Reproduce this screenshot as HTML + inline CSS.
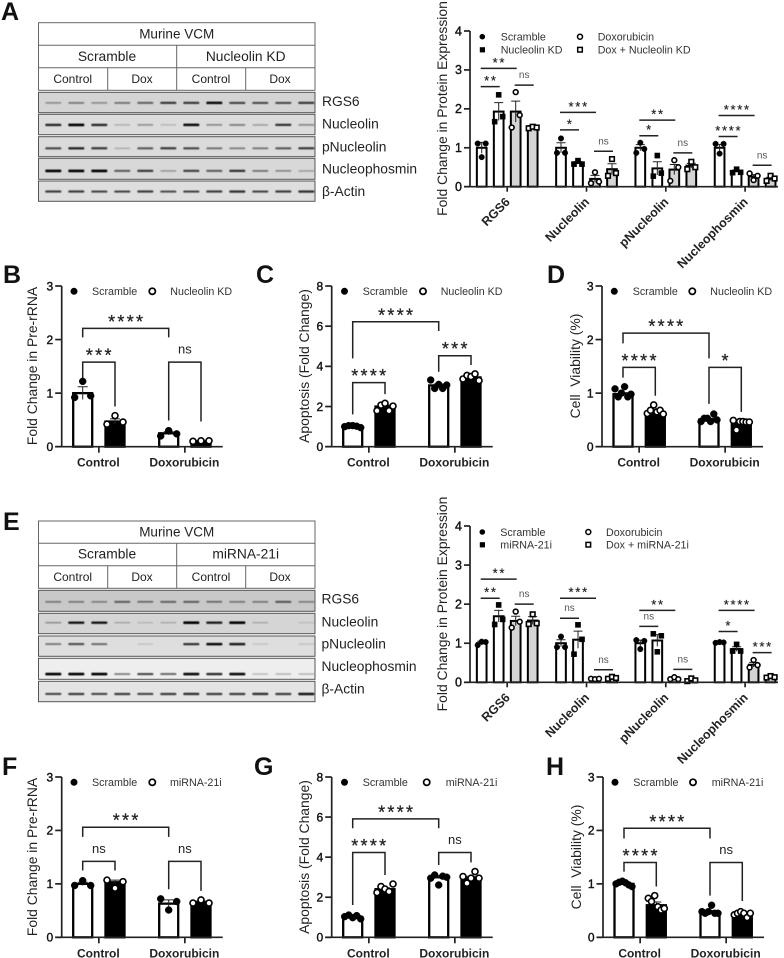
<!DOCTYPE html>
<html lang="en">
<head>
<meta charset="utf-8">
<title>Nucleolin and miRNA-21 figure</title>
<style>
html,body{margin:0;padding:0;background:#fff;width:784px;height:958px;overflow:hidden}
svg{display:block;font-family:"Liberation Sans",Arial,sans-serif;filter:blur(0.3px)}
.letter{font-size:25px;font-weight:700;fill:#111}
.tbl{fill:#fff;stroke:#666;stroke-width:1}
.tl{fill:#222;text-anchor:middle}
.row{fill:#222;font-size:13.8px}
.ttl{fill:#222;font-size:13.9px;text-anchor:middle}
.leg{fill:#333;font-size:10.7px}
</style>
</head>
<body>
<svg id="figure" width="784" height="958" viewBox="0 0 784 958" xmlns="http://www.w3.org/2000/svg">
<defs><filter id="soft" x="-20%" y="-150%" width="140%" height="400%"><feGaussianBlur stdDeviation="0.6"/></filter></defs>

<text class="letter" x="1" y="20">A</text>
<text class="letter" x="3" y="283">B</text>
<text class="letter" x="256" y="283">C</text>
<text class="letter" x="547" y="283">D</text>
<text class="letter" x="3" y="530">E</text>
<text class="letter" x="2" y="775">F</text>
<text class="letter" x="254" y="775">G</text>
<text class="letter" x="546" y="775">H</text>

<g>
<rect class="tbl" x="38.5" y="22.7" width="276.5" height="67.6"/>
<path d="M38.5 45.3H315M38.5 67.7H315M176.7 45.3V90.3M107.7 67.7V90.3M245.7 67.7V90.3" stroke="#666" fill="none"/>
<text class="tl" font-size="13.5" x="176.7" y="38.3">Murine VCM</text>
<text class="tl" font-size="13.8" x="107" y="61">Scramble</text>
<text class="tl" font-size="13.8" x="245.7" y="61">Nucleolin KD</text>
<text class="tl" font-size="12" x="72.7" y="83">Control</text>
<text class="tl" font-size="12" x="142" y="83">Dox</text>
<text class="tl" font-size="12" x="211" y="83">Control</text>
<text class="tl" font-size="12" x="280" y="83">Dox</text>
</g>
<g id="blots-a"></g>
<g>
<text class="row" x="322" y="106">RGS6</text>
<text class="row" x="322" y="128.7">Nucleolin</text>
<text class="row" x="322" y="151.3">pNucleolin</text>
<text class="row" x="322" y="173.7">Nucleophosmin</text>
<text class="row" x="322" y="196">β-Actin</text>
</g>

<g>
<rect class="tbl" x="38.5" y="521" width="276.5" height="67.3"/>
<path d="M38.5 543.3H315M38.5 565.7H315M176.7 543.3V588.3M107.7 565.7V588.3M245.7 565.7V588.3" stroke="#666" fill="none"/>
<text class="tl" font-size="13.5" x="176.7" y="536.3">Murine VCM</text>
<text class="tl" font-size="13.8" x="107" y="558.7">Scramble</text>
<text class="tl" font-size="13.8" x="245.7" y="558.7">miRNA-21i</text>
<text class="tl" font-size="12" x="72.7" y="581">Control</text>
<text class="tl" font-size="12" x="142" y="581">Dox</text>
<text class="tl" font-size="12" x="211" y="581">Control</text>
<text class="tl" font-size="12" x="280" y="581">Dox</text>
</g>
<g id="blots-e"></g>
<g>
<text class="row" x="321.5" y="603.7">RGS6</text>
<text class="row" x="321.5" y="626.3">Nucleolin</text>
<text class="row" x="321.5" y="648.7">pNucleolin</text>
<text class="row" x="321.5" y="671">Nucleophosmin</text>
<text class="row" x="321.5" y="693.7">β-Actin</text>
</g>

<text class="ttl" transform="translate(447 108.5) rotate(-90)">Fold Change in Protein Expression</text>
<text class="ttl" transform="translate(447 604) rotate(-90)">Fold Change in Protein Expression</text>
<text class="ttl" transform="translate(37 366) rotate(-90)">Fold Change in Pre-rRNA</text>
<text class="ttl" transform="translate(309 366) rotate(-90)">Apoptosis (Fold Change)</text>
<text class="ttl" transform="translate(580 366) rotate(-90)" xml:space="preserve">Cell  Viability (%)</text>
<text class="ttl" transform="translate(37 857) rotate(-90)">Fold Change in Pre-rRNA</text>
<text class="ttl" transform="translate(309 857) rotate(-90)">Apoptosis (Fold Change)</text>
<text class="ttl" transform="translate(581 857) rotate(-90)" xml:space="preserve">Cell  Viability (%)</text>

<g>
<circle cx="482.3" cy="36.7" r="2.8" fill="#000"/><text class="leg" x="500.7" y="40.5">Scramble</text>
<rect x="479.8" y="47.2" width="5.2" height="5.2" fill="#000"/><text class="leg" x="500.7" y="53.5">Nucleolin KD</text>
<circle cx="580" cy="36.7" r="2.5" fill="#fff" stroke="#000" stroke-width="1.5"/><text class="leg" x="597.7" y="40.5">Doxorubicin</text>
<rect x="577.7" y="47.4" width="4.6" height="4.6" fill="#fff" stroke="#000" stroke-width="1.5"/><text class="leg" x="597.7" y="53.5">Dox + Nucleolin KD</text>
</g>
<g>
<circle cx="482.3" cy="532" r="2.8" fill="#000"/><text class="leg" x="500.3" y="535.8">Scramble</text>
<rect x="479.8" y="542.2" width="5.2" height="5.2" fill="#000"/><text class="leg" x="500.3" y="548.5">miRNA-21i</text>
<circle cx="588.3" cy="532" r="2.5" fill="#fff" stroke="#000" stroke-width="1.5"/><text class="leg" x="606" y="535.8">Doxorubicin</text>
<rect x="586" y="542.4" width="4.6" height="4.6" fill="#fff" stroke="#000" stroke-width="1.5"/><text class="leg" x="606" y="548.5">Dox + miRNA-21i</text>
</g>
<g>
<circle cx="74" cy="291.3" r="3.5" fill="#000"/><text class="leg" x="92" y="295">Scramble</text>
<circle cx="152.3" cy="291.3" r="3.1" fill="#fff" stroke="#000" stroke-width="1.7"/><text class="leg" x="170.3" y="295">Nucleolin KD</text>
</g>
<g>
<circle cx="344.5" cy="291.3" r="3.5" fill="#000"/><text class="leg" x="362.7" y="295">Scramble</text>
<circle cx="423" cy="291.3" r="3.1" fill="#fff" stroke="#000" stroke-width="1.7"/><text class="leg" x="440.7" y="295">Nucleolin KD</text>
</g>
<g>
<circle cx="614.3" cy="291.3" r="3.5" fill="#000"/><text class="leg" x="632.7" y="295">Scramble</text>
<circle cx="692.3" cy="291.3" r="3.1" fill="#fff" stroke="#000" stroke-width="1.7"/><text class="leg" x="710.3" y="295">Nucleolin KD</text>
</g>
<g>
<circle cx="74" cy="782.3" r="3.5" fill="#000"/><text class="leg" x="92" y="786">Scramble</text>
<circle cx="152.3" cy="782.3" r="3.1" fill="#fff" stroke="#000" stroke-width="1.7"/><text class="leg" x="170" y="786">miRNA-21i</text>
</g>
<g>
<circle cx="344.5" cy="782.3" r="3.5" fill="#000"/><text class="leg" x="362.7" y="786">Scramble</text>
<circle cx="426.7" cy="782.3" r="3.1" fill="#fff" stroke="#000" stroke-width="1.7"/><text class="leg" x="445.7" y="786">miRNA-21i</text>
</g>
<g>
<circle cx="615" cy="782.3" r="3.5" fill="#000"/><text class="leg" x="633.3" y="786">Scramble</text>
<circle cx="693" cy="782.3" r="3.1" fill="#fff" stroke="#000" stroke-width="1.7"/><text class="leg" x="711.7" y="786">miRNA-21i</text>
</g>

<g id="chart-a"></g>
<g id="chart-e"></g>
<g id="chart-b"></g>
<g id="chart-c"></g>
<g id="chart-d"></g>
<g id="chart-f"></g>
<g id="chart-g"></g>
<g id="chart-h"></g>
</svg>

<script>
// ---------- shared labels ----------
const proteinCategories = ['RGS6', 'Nucleolin', 'pNucleolin', 'Nucleophosmin'];
const treatmentCategories = ['Control', 'Doxorubicin'];
const ticksProtein = [0, 1, 2, 3, 4];
const ticksThree = [0, 1, 2, 3];
const ticksEight = [0, 2, 4, 6, 8];

// ---------- panel A ----------
const aMeans = [[1.0, 1.93, 1.93, 1.55], [1.0, 0.61, 0.2, 0.45], [1.0, 0.47, 0.44, 0.54], [1.0, 0.4, 0.26, 0.2]];
const aErrors = [[0.14, 0.23, 0.27, 0.02], [0.13, 0.03, 0.09, 0.14], [0.08, 0.17, 0.13, 0.06], [0.08, 0.03, 0.05, 0.04]];
const aPoints = [
  [[1.11, 0.76, 1.11], [1.67, 2.36, 1.8], [1.52, 2.43, 1.84], [1.5, 1.54, 1.52]],
  [[0.87, 1.24, 0.87], [0.58, 0.67, 0.58], [0.09, 0.37, 0.13], [0.28, 0.71, 0.35]],
  [[0.87, 1.13, 0.97], [0.27, 0.8, 0.35], [0.15, 0.68, 0.5], [0.45, 0.64, 0.5]],
  [[1.1, 0.85, 1.1], [0.36, 0.45, 0.37], [0.34, 0.17, 0.28], [0.15, 0.28, 0.21]]
];
const aBrackets = [
  [0, 0, 2, 3.04, '**'], [0, 0, 1, 2.57, '**'], [0, 2, 3, 2.61, 'ns'],
  [1, 0, 2, 1.91, '***'], [1, 0, 1, 1.46, '*'], [1, 2, 3, 0.91, 'ns'],
  [2, 0, 2, 1.71, '**'], [2, 0, 1, 1.31, '*'], [2, 2, 3, 0.87, 'ns'],
  [3, 0, 2, 1.83, '****'], [3, 0, 1, 1.29, '****'], [3, 2, 3, 0.55, 'ns']
];

// ---------- panel E ----------
const eMeans = [[1.0, 1.69, 1.57, 1.58], [1.0, 1.09, 0.09, 0.12], [1.0, 1.07, 0.1, 0.06], [1.02, 0.85, 0.45, 0.14]];
const eErrors = [[0.05, 0.15, 0.12, 0.1], [0.09, 0.22, 0.01, 0.02], [0.08, 0.15, 0.02, 0.02], [0.01, 0.06, 0.06, 0.01]];
const ePoints = [
  [[0.95, 1.04, 1.03], [1.48, 1.98, 1.61], [1.4, 1.81, 1.55], [1.49, 1.74, 1.51]],
  [[0.9, 1.17, 0.9], [0.72, 1.47, 1.1], [0.09, 0.08, 0.09], [0.09, 0.14, 0.11]],
  [[1.08, 0.85, 1.06], [1.24, 0.78, 1.19], [0.08, 0.13, 0.08], [0.03, 0.1, 0.05]],
  [[1.01, 1.03, 1.02], [0.8, 0.97, 0.8], [0.38, 0.57, 0.44], [0.12, 0.16, 0.13]]
];
const eBrackets = [
  [0, 0, 2, 2.64, '**'], [0, 0, 1, 2.15, '**'], [0, 2, 3, 2.0, 'ns'],
  [1, 0, 2, 2.15, '***'], [1, 0, 1, 1.64, 'ns'], [1, 2, 3, 0.32, 'ns'],
  [2, 0, 2, 1.84, '**'], [2, 0, 1, 1.43, 'ns'], [2, 2, 3, 0.33, 'ns'],
  [3, 0, 2, 1.84, '****'], [3, 0, 1, 1.3, '*'], [3, 2, 3, 0.76, '***']
];

// ---------- panels B, C, D ----------
const bMeans = [1.0, 0.47, 0.25, 0.1];
const bErrors = [0.12, 0.05, 0.03, 0.01];
const bPoints = [[0.92, 1.22, 0.95], [0.42, 0.58, 0.46], [0.2, 0.3, 0.24], [0.1, 0.11, 0.11]];
const bBrackets = [[0, 2, 2.21, 2.04, 2.04, '****'], [0, 1, 1.58, 1.28, 0.75, '***'], [2, 3, 1.58, 0.49, 0.47, 'ns']];

const cMeans = [1.0, 2.0, 3.05, 3.45];
const cErrors = [0.02, 0.07, 0.07, 0.06];
const cPoints = [[1.0, 1.05, 1.05, 1.02, 0.95], [1.79, 2.07, 2.16, 1.79, 2.02], [3.32, 2.9, 3.1, 2.9, 3.07], [3.37, 3.55, 3.49, 3.62, 3.29]];
const cBrackets = [[0, 2, 6.22, 4.4, 5.76, '****'], [0, 1, 3.19, 1.61, 2.62, '****'], [2, 3, 4.53, 3.73, 4.07, '***']];

const dMeans = [0.98, 0.63, 0.51, 0.43];
const dErrors = [0.03, 0.03, 0.02, 0.03];
const dPoints = [[1.08, 0.93, 1.0, 1.12, 0.93, 0.98], [0.62, 0.68, 0.78, 0.65, 0.68, 0.61], [0.47, 0.53, 0.53, 0.47, 0.61, 0.5], [0.49, 0.31, 0.47, 0.47, 0.46, 0.46]];
const dBrackets = [[0, 2, 2.12, 1.93, 1.65, '****'], [0, 1, 1.48, 1.29, 0.95, '****'], [2, 3, 1.48, 0.8, 0.65, '*']];

// ---------- panels F, G, H ----------
const fMeans = [1.0, 1.03, 0.63, 0.66];
const fErrors = [0.03, 0.04, 0.07, 0.02];
const fPoints = [[0.97, 1.06, 0.97], [1.07, 0.92, 1.04], [0.72, 0.51, 0.67], [0.64, 0.7, 0.64]];
const fBrackets = [[0, 2, 2.06, 1.88, 1.88, '***'], [0, 1, 1.42, 1.25, 1.25, 'ns'], [2, 3, 1.42, 0.9, 0.87, 'ns']];

const gMeans = [1.0, 2.4, 3.0, 2.95];
const gErrors = [0.03, 0.07, 0.08, 0.09];
const gPoints = [[1.03, 1.11, 0.98, 1.08, 0.92], [2.23, 2.53, 2.41, 2.28, 2.66], [2.95, 3.11, 2.61, 3.05, 3.0], [3.03, 2.7, 2.95, 3.28, 2.95]];
const gBrackets = [[0, 2, 5.91, 5.44, 5.44, '****'], [0, 1, 4.23, 1.61, 3.11, '****'], [2, 3, 4.23, 3.61, 3.74, 'ns']];

const hMeans = [1.0, 0.6, 0.47, 0.43];
const hErrors = [0.01, 0.06, 0.03, 0.02];
const hPoints = [[1.0, 1.03, 1.05, 1.02, 0.98, 0.95], [0.73, 0.67, 0.78, 0.57, 0.51, 0.54], [0.48, 0.45, 0.48, 0.6, 0.45, 0.45], [0.42, 0.45, 0.48, 0.45, 0.37, 0.45]];
const hBrackets = [[0, 2, 2.04, 1.85, 1.85, '****'], [0, 1, 1.4, 1.23, 0.95, '****'], [2, 3, 1.4, 0.78, 0.68, 'ns']];

// ---------- blot band intensities (one row per protein, one value per lane) ----------
const blotBandsA = [
  [0.25, 0.35, 0.25, 0.4, 0.5, 0.7, 0.7, 0.95, 0.65, 0.6, 0.6, 0.7],
  [0.8, 1, 0.8, 0.12, 0.25, 0.08, 0.95, 0.3, 0.35, 0.2, 0.75, 0.3],
  [0.65, 0.8, 0.7, 0.12, 0.55, 0.7, 0.65, 0.45, 0.35, 0.4, 0.55, 0.7],
  [1, 1, 1, 0.55, 0.7, 0.22, 0.65, 0.55, 0.75, 0.4, 0.3, 0.2],
  [0.7, 0.7, 0.65, 0.65, 0.7, 0.6, 0.65, 0.7, 0.75, 0.65, 0.7, 0.75]
];
const blotBandsE = [
  [0.35, 0.35, 0.3, 0.5, 0.4, 0.45, 0.5, 0.4, 0.35, 0.35, 0.55, 0.3],
  [0.25, 0.9, 0.9, 0.12, 0.06, 0.1, 1, 0.85, 1, 0.1, 0, 0.03],
  [0.4, 0.6, 0.45, 0, 0.03, 0, 0.75, 0.95, 0.85, 0.03, 0, 0.03],
  [1, 1, 1, 0.4, 0.65, 0.5, 0.95, 0.8, 0.95, 0.12, 0.15, 0.15],
  [0.65, 0.7, 0.65, 0.7, 0.65, 0.7, 0.75, 0.7, 0.7, 0.75, 0.7, 0.9]
];

const NS = 'http://www.w3.org/2000/svg';
function make(parent, tag, attrs) {
  const e = document.createElementNS(NS, tag);
  for (const k in attrs) e.setAttribute(k, attrs[k]);
  parent.appendChild(e);
  return e;
}
function slug(s) { return String(s).toLowerCase().replace(/[^a-z0-9]+/g, '-'); }

function linearY(y0, yTop, max) { return v => y0 - v * (y0 - yTop) / max; }

function drawMarker(parent, kind, x, y, r, name) {
  let m;
  const open = kind === 'open-circle' || kind === 'open-square';
  const square = kind === 'square' || kind === 'open-square';
  const style = { fill: open ? '#fff' : '#000', stroke: '#000', 'stroke-width': open ? 1.6 : 0.4 };
  if (square) {
    m = make(parent, 'rect', Object.assign({ x: x - r, y: y - r, width: 2 * r, height: 2 * r }, style));
  } else {
    m = make(parent, 'circle', Object.assign({ cx: x, cy: y, r: r }, style));
  }
  
  
}

function drawYAxis(g, axisX, y, ticks, top, right, tickLen, fontSize, panel) {
  const axis = make(g, 'path', { d: 'M' + axisX + ' ' + top + 'V' + y(0) + 'M' + (axisX - tickLen) + ' ' + y(0) + 'H' + right, stroke: '#222', 'stroke-width': 1.7, fill: 'none' });
  
  
  ticks.forEach(t => {
    const tk = make(g, 'line', { x1: axisX - tickLen, x2: axisX, y1: y(t), y2: y(t), stroke: '#222', 'stroke-width': 1.7 });
    
    
    const lb = make(g, 'text', { x: axisX - tickLen - 2, y: y(t) + 4.3, 'text-anchor': 'end', 'font-size': fontSize, fill: '#111', stroke: '#111', 'stroke-width': 0.4 });
    lb.textContent = t;
    
    
  });
}

function drawBar(g, cx, w, value, y, fill, sw, name) {
  const bar = make(g, 'rect', { x: cx - w / 2, y: y(value), width: w, height: Math.max(0, y(0) - y(value)), fill: fill, stroke: '#000', 'stroke-width': sw });
  
  
}

function drawError(g, cx, capW, mean, err, y, name) {
  const e = make(g, 'path', { d: 'M' + (cx - capW / 2) + ' ' + y(mean + err) + 'H' + (cx + capW / 2) + 'M' + cx + ' ' + y(mean + err) + 'V' + y(mean - err), stroke: '#222', 'stroke-width': 1, fill: 'none' });
  
  
}

function sigLabel(g, x, yTop, label, big, name) {
  const isNs = label === 'ns';
  let t;
  if (isNs) {
    t = make(g, 'text', { x: x, y: yTop - (big ? 8.5 : 7), 'text-anchor': 'middle', 'font-size': big ? 13 : 10, fill: big ? '#222' : '#555' });
  } else if (big) {
    t = make(g, 'text', { x: x + 1, y: yTop - 0.5, 'text-anchor': 'middle', 'font-size': 18, 'letter-spacing': 2.3, fill: '#222', stroke: '#222', 'stroke-width': 0.25 });
  } else {
    t = make(g, 'text', { x: x + 0.7, y: yTop - 1.6, 'text-anchor': 'middle', 'font-size': 13, 'letter-spacing': 1.7, fill: '#222', stroke: '#222', 'stroke-width': 0.2 });
  }
  t.textContent = label;
  
  
}

function drawProteinChart(id, panel, y0, yTop, means, errors, points, brackets) {
  const g = document.getElementById(id);
  const axisX = 470, x0 = 481.7, groupStep = 79.3, barStep = 17;
  const y = linearY(y0, yTop, 4);
  const bx = (c, s) => x0 + c * groupStep + s * barStep;
  const fills = ['#fff', '#fff', '#d4d4d4', '#d4d4d4'];
  const kinds = ['circle', 'square', 'open-circle', 'open-square'];
  const radii = [2.8, 2.6, 2.4, 2.3];
  means.forEach((row, c) => {
    row.forEach((m, s) => {
      drawBar(g, bx(c, s), 9.7, m, y, fills[s], 2, 'bar-' + panel + '-' + slug(proteinCategories[c]) + '-' + s);
      drawError(g, bx(c, s), 9, m, errors[c][s], y, 'error-bar-' + panel + '-' + slug(proteinCategories[c]) + '-' + s);
      const pts = points[c][s];
      pts.forEach((v, i) => {
        const off = -4 + 8 * i / (pts.length - 1);
        drawMarker(g, kinds[s], bx(c, s) + off, y(v), radii[s], 'point-' + panel + '-' + slug(proteinCategories[c]) + '-' + s + '-' + i);
      });
    });
  });
  drawYAxis(g, axisX, y, ticksProtein, yTop, 778, 6, 12.5, panel);
  proteinCategories.forEach((name, c) => {
    const tx = bx(c, 1.5);
    const tk = make(g, 'line', { x1: tx, x2: tx, y1: y(0), y2: y(0) + 5, stroke: '#222', 'stroke-width': 1.7 });
    
    
    const lb = make(g, 'text', { transform: 'translate(' + (tx + 3.5) + ' ' + (y(0) + 16) + ') rotate(-45)', 'text-anchor': 'end', 'font-size': 12.5, 'font-weight': 700, fill: '#222' });
    lb.textContent = name;
    
    
  });
  brackets.forEach((b, i) => {
    const x1 = bx(b[0], b[1]) - 1, x2 = bx(b[0], b[2]) + 1;
    const line = make(g, 'line', { x1: x1, x2: x2, y1: y(b[3]), y2: y(b[3]), stroke: '#222', 'stroke-width': 1.5 });
    
    
    sigLabel(g, (x1 + x2) / 2, y(b[3]), b[4], false, 'significance-label-' + panel + '-' + i);
  });
}

function drawTreatmentChart(id, panel, axisX, y0, yTop, max, ticks, means, errors, points, brackets) {
  const g = document.getElementById(id);
  const y = linearY(y0, yTop, max);
  const bx = i => axisX + 21 + 32.3 * (i % 2) + 86 * Math.floor(i / 2);
  means.forEach((m, i) => {
    const cat = slug(treatmentCategories[Math.floor(i / 2)]) + '-' + (i % 2);
    drawBar(g, bx(i), 19, m, y, i % 2 ? '#000' : '#fff', 2.3, 'bar-' + panel + '-' + cat);
    drawError(g, bx(i), 10, m, errors[i], y, 'error-bar-' + panel + '-' + cat);
    const pts = points[i];
    pts.forEach((v, k) => {
      const off = -8 + 16 * k / (pts.length - 1);
      drawMarker(g, i % 2 ? 'open-circle' : 'circle', bx(i) + off, y(v), i % 2 ? 3 : 3.5, 'point-' + panel + '-' + cat + '-' + k);
    });
  });
  drawYAxis(g, axisX, y, ticks, yTop, axisX + 161, 6.5, 12, panel);
  treatmentCategories.forEach((name, c) => {
    const tx = (bx(c * 2) + bx(c * 2 + 1)) / 2;
    const tk = make(g, 'line', { x1: tx, x2: tx, y1: y(0), y2: y(0) + 6, stroke: '#222', 'stroke-width': 1.7 });
    
    
    const lb = make(g, 'text', { x: tx - 0.5, y: y(0) + 20, 'text-anchor': 'middle', 'font-size': 12, 'font-weight': 700, fill: '#222' });
    lb.textContent = name;
    
    
  });
  brackets.forEach((b, i) => {
    const x1 = bx(b[0]), x2 = bx(b[1]);
    const br = make(g, 'path', { d: 'M' + x1 + ' ' + y(b[3]) + 'V' + y(b[2]) + 'H' + x2 + 'V' + y(b[4]), stroke: '#222', 'stroke-width': 1.5, fill: 'none' });
    
    
    sigLabel(g, (x1 + x2) / 2, y(b[2]), b[5], true, 'significance-label-' + panel + '-' + i);
  });
}

function drawBlots(id, panel, rowTops, rowHeights, rowFills, bandFracs, bands) {
  const g = document.getElementById(id);
  const proteins = ['rgs6', 'nucleolin', 'pnucleolin', 'nucleophosmin', 'beta-actin'];
  bands.forEach((row, r) => {
    const bg = make(g, 'rect', { x: 38.5, y: rowTops[r], width: 276.5, height: rowHeights[r], fill: rowFills[r], stroke: '#555', 'stroke-width': 1 });
    
    
    const by = rowTops[r] + rowHeights[r] * bandFracs[r];
    row.forEach((v, i) => {
      if (v <= 0) return;
      const lane = make(g, 'rect', { x: 53.3 + i * 23 - 8, y: by - 0.7 - v * 0.6, width: 16, height: 1.4 + v * 1.2, rx: 0.8, fill: '#000', opacity: Math.min(1, 0.1 + v * 0.9), filter: 'url(#soft)' });
      
      
    });
  });
}

drawBlots('blots-a', 'a', [92.3, 114.3, 136.7, 158.3, 181], [20.4, 20.4, 20, 21, 20.3],
  ['#d4d4d4', '#dcdcdc', '#dbdbdb', '#d8d8d8', '#dedede'], [0.52, 0.52, 0.58, 0.6, 0.52], blotBandsA);
drawBlots('blots-e', 'e', [590.3, 613.3, 636, 658.3, 681.3], [21, 20.4, 20.3, 21, 20.4],
  ['#c8c8c8', '#d5d5d5', '#dedede', '#eeeeee', '#e4e4e4'], [0.55, 0.46, 0.4, 0.75, 0.62], blotBandsE);

drawProteinChart('chart-a', 'a', 186.7, 31, aMeans, aErrors, aPoints, aBrackets);
drawProteinChart('chart-e', 'e', 682.3, 526, eMeans, eErrors, ePoints, eBrackets);

drawTreatmentChart('chart-b', 'b', 61.7, 446.7, 286, 3, ticksThree, bMeans, bErrors, bPoints, bBrackets);
drawTreatmentChart('chart-c', 'c', 331.7, 446.7, 286, 8, ticksEight, cMeans, cErrors, cPoints, cBrackets);
drawTreatmentChart('chart-d', 'd', 602, 446.7, 286, 3, ticksThree, dMeans, dErrors, dPoints, dBrackets);
drawTreatmentChart('chart-f', 'f', 61.7, 937.3, 777, 3, ticksThree, fMeans, fErrors, fPoints, fBrackets);
drawTreatmentChart('chart-g', 'g', 331.7, 937.3, 777, 8, ticksEight, gMeans, gErrors, gPoints, gBrackets);
drawTreatmentChart('chart-h', 'h', 603, 937.3, 777, 3, ticksThree, hMeans, hErrors, hPoints, hBrackets);
</script>
</body>
</html>
